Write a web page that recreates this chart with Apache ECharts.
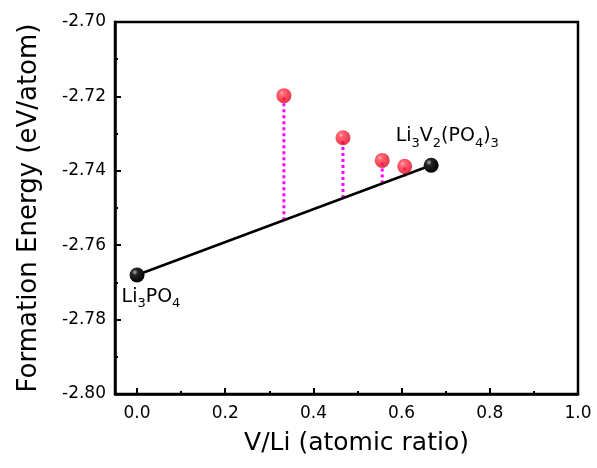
<!DOCTYPE html>
<html><head><meta charset="utf-8">
<script src="https://cdn.jsdelivr.net/npm/echarts@6/dist/echarts.min.js"></script>
<style>html,body{margin:0;padding:0;background:#fff}#c{width:597px;height:468px}</style>
</head><body><div id="c"></div>
<script>
// end members of the hull
const hullX = [0, 0.667];
const hullE = [-2.768, -2.7385];
// intermediate compounds
const redX = [0.333, 0.467, 0.556, 0.607];
const redE = [-2.7198, -2.7311, -2.7372, -2.7388];
// hull energy read beneath each intermediate compound
const dropE = [-2.7533, -2.7473, -2.7434, -2.7415];
const xMajor = [0, 0.2, 0.4, 0.6, 0.8, 1.0];
const xMinor = [0.1, 0.3, 0.5, 0.7, 0.9];

const F = '"DejaVu Sans", Arial, sans-serif';
const chart = echarts.init(document.getElementById('c'));
const redBall = {type:'radial',x:0.36,y:0.33,r:0.7,colorStops:[{offset:0,color:'#ffb8c0'},{offset:0.18,color:'#ff4858'},{offset:0.55,color:'#ff1f33'},{offset:1,color:'#d00a22'}]};
const blackBall = {type:'radial',x:0.35,y:0.32,r:0.7,colorStops:[{offset:0,color:'#b0b0b0'},{offset:0.28,color:'#262626'},{offset:1,color:'#000'}]};

const series = [];
redX.forEach((x,i)=>{
  series.push({type:'line',xAxisIndex:0,yAxisIndex:0,data:[[x,dropE[i]],[x,redE[i]]],symbol:'none',
    lineStyle:{color:'#ff00ff',width:3,type:[3,3]},z:2,silent:true});
});
const rich = {n:{fontSize:19,fontFamily:F,color:'#000',lineHeight:26,verticalAlign:'top'},
              s:{fontSize:13,fontFamily:F,color:'#000',lineHeight:26,padding:[10,0,0,0],verticalAlign:'top'}};
series.push({type:'line',symbol:'circle',symbolSize:15,
  data:[
    {value:[hullX[0],hullE[0]],label:{show:true,formatter:'{n|Li}{s|3}{n|PO}{s|4}',position:[-8,20],align:'left',verticalAlign:'top',rich:rich}},
    {value:[hullX[1],hullE[1]],label:{show:true,formatter:'{n|Li}{s|3}{n|V}{s|2}{n|(PO}{s|4}{n|)}{s|3}',position:[-28,-31],align:'left',verticalAlign:'top',rich:rich}}
  ],
  lineStyle:{color:'#000',width:2.5},itemStyle:{color:blackBall},z:3
});
series.push({type:'scatter',data:redX.map((x,i)=>[x,redE[i]]),symbol:'circle',symbolSize:15,itemStyle:{color:redBall},z:4});

chart.setOption({
  animation:false,
  grid:{left:115,right:19,top:22,bottom:74,show:true,borderColor:'#000',borderWidth:2.5,backgroundColor:'transparent'},
  xAxis:[{type:'value',min:-0.05,max:1.0,
    name:'V/Li (atomic ratio)',nameLocation:'middle',nameGap:37,nameTextStyle:{fontFamily:F,fontSize:25,color:'#000',padding:[0,0,0,20]},
    axisLine:{onZero:false,lineStyle:{color:'#000',width:2.5}},
    axisTick:{show:true,inside:true,length:6,lineStyle:{color:'#000',width:2},customValues:xMajor},
    axisLabel:{customValues:xMajor,formatter:v=>v.toFixed(1),fontFamily:F,fontSize:17,color:'#000',margin:11},
    splitLine:{show:false}},
   {type:'value',min:-0.05,max:1.0,position:'bottom',
    axisLine:{show:false,onZero:false},
    axisTick:{show:true,inside:true,length:3,lineStyle:{color:'#000',width:2},customValues:xMinor},
    axisLabel:{show:false},splitLine:{show:false}}],
  yAxis:{type:'value',min:-2.80,max:-2.70,interval:0.02,
    name:'Formation Energy (eV/atom)',nameLocation:'middle',nameGap:73,nameTextStyle:{fontFamily:F,fontSize:26,color:'#000'},
    axisLine:{show:true,onZero:false,lineStyle:{color:'#000',width:2.5}},
    axisTick:{show:true,inside:true,length:6,lineStyle:{color:'#000',width:2}},
    minorTick:{show:true,splitNumber:2,length:3,lineStyle:{color:'#000',width:2}},
    axisLabel:{formatter:v=>v.toFixed(2),fontFamily:F,fontSize:17,color:'#000',margin:9},
    splitLine:{show:false},minorSplitLine:{show:false}},
  series:series
});
</script></body></html>
